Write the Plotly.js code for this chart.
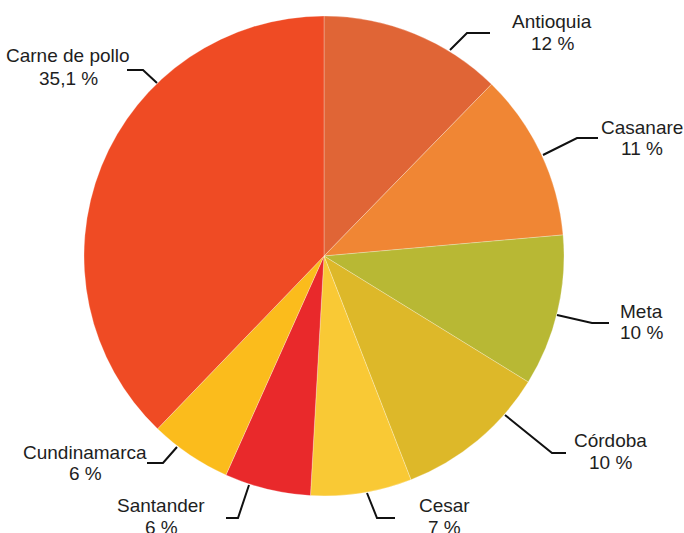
<!DOCTYPE html>
<html>
<head>
<meta charset="utf-8">
<script src="https://cdn.plot.ly/plotly-3.0.1.min.js"></script>
<style>html,body{margin:0;padding:0;background:#fff;}#chart{width:684px;height:533px;}</style>
</head>
<body>
<div id="chart"></div>
<script>
// Data (share of the pie) and displayed labels
const categories = ["Antioquia", "Casanare", "Meta", "Córdoba", "Cesar", "Santander", "Cundinamarca", "Carne de pollo"];
const shares = [12.3, 11.3, 10.2, 10.3, 6.8, 5.8, 5.5, 37.8];
const pctLabels = ["12 %", "11 %", "10 %", "10 %", "7 %", "6 %", "6 %", "35,1 %"];
const colors = ["#E06536", "#F08634", "#B8B834", "#DDB829", "#F9C935", "#E9292B", "#FBBC1C", "#EF4B24"];

// Layout: label placement (pixel positions), leader line points
const W = 684, H = 533;
const labelPos = [
  {x: 552, y1: 21, y2: 43, line: [[450,50],[467,33],[490,33]]},
  {x: 642, y1: 127, y2: 148, line: [[543,155],[577,138],[598,138]]},
  {x: 641, y1: 311, y2: 332, line: [[557,315],[592,323],[609,323]]},
  {x: 610, y1: 440, y2: 462, line: [[505,415],[552,453],[566,453]]},
  {x: 444, y1: 505, y2: 527, line: [[367,493],[377,518],[395,518]]},
  {x: 161, y1: 505, y2: 527, line: [[249,485],[238,518],[226,518]]},
  {x: 85, y1: 452, y2: 473, line: [[177,447],[163,463],[147,463]]},
  {x: 68, y1: 55, y2: 78, line: [[157,83],[143,70],[127,70]]}
];
const px = x => x / W;
const py = y => 1 - y / H;
const font = {family: "Liberation Sans, Arial, sans-serif", size: 19, color: "#1E1E1E"};

const annotations = [];
const shapes = [];
categories.forEach((c, i) => {
  const p = labelPos[i];
  annotations.push({xref: "paper", yref: "paper", x: px(p.x), y: py(p.y1), text: c, showarrow: false, xanchor: "center", yanchor: "middle", font: font});
  annotations.push({xref: "paper", yref: "paper", x: px(p.x), y: py(p.y2), text: pctLabels[i], showarrow: false, xanchor: "center", yanchor: "middle", font: font});
  const path = p.line.map((pt, k) => (k === 0 ? "M" : "L") + px(pt[0]).toFixed(5) + "," + py(pt[1]).toFixed(5)).join(" ");
  shapes.push({type: "path", xref: "paper", yref: "paper", path: path, line: {color: "#111", width: 2}});
});

const trace = {
  type: "pie",
  labels: categories,
  values: shares,
  sort: false,
  direction: "clockwise",
  rotation: 0,
  textinfo: "none",
  hoverinfo: "none",
  marker: {colors: colors, line: {color: "rgba(255,255,255,0.45)", width: 0.6}},
  domain: {x: [84 / W, 564 / W], y: [(H - 496) / H, (H - 16) / H]},
  showlegend: false
};

const layout = {
  width: W, height: H,
  margin: {l: 0, r: 0, t: 0, b: 0},
  paper_bgcolor: "#fff",
  showlegend: false,
  annotations: annotations,
  shapes: shapes
};

Plotly.newPlot("chart", [trace], layout, {displayModeBar: false, staticPlot: true});
</script>
</body>
</html>
